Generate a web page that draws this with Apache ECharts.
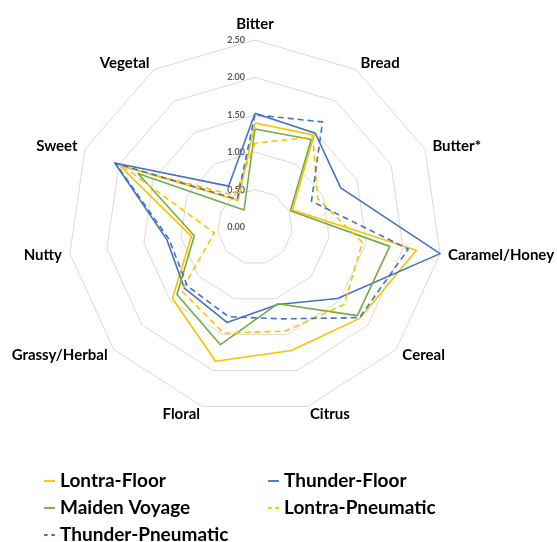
<!DOCTYPE html>
<html>
<head>
<meta charset="utf-8">
<script src="https://cdn.jsdelivr.net/npm/echarts@6/dist/echarts.min.js"></script>
<style>
    html, body { margin: 0; padding: 0; background: #fff; }
    #radar-chart { width: 557px; height: 542px; }
</style>
</head>
<body>
<div id="radar-chart"></div>
<script>
// clockwise from the top, as in the original sheet
var categories = ['Bitter', 'Bread', 'Butter*', 'Caramel/Honey', 'Cereal', 'Citrus',
    'Floral', 'Grassy/Herbal', 'Nutty', 'Sweet', 'Vegetal'];
var tick_max = 2.5;

var lontra_floor      = [1.39, 1.46, 0.55, 2.18, 1.86, 1.72, 1.87, 1.46, 0.86, 2.00, 0.42];
var thunder_floor     = [1.52, 1.49, 1.26, 2.50, 1.46, 1.08, 1.33, 1.25, 1.19, 2.06, 0.65];
var maiden_voyage     = [1.31, 1.39, 0.52, 1.82, 1.81, 1.07, 1.64, 1.38, 0.82, 1.72, 0.27];
var lontra_pneumatic  = [1.12, 1.43, 0.92, 1.45, 1.58, 1.45, 1.48, 1.30, 0.55, 1.93, 0.50];
var thunder_pneumatic = [1.50, 1.67, 0.83, 2.07, 1.85, 1.28, 1.25, 1.20, 1.16, 2.05, 0.44];

var YELLOW = '#FFC000', BLUE = '#4472C4', GREEN = '#70AD47';
var FONT = 'Lato';
var solid_icon = 'path://M0,0 L12,0 L12,2 L0,2 Z';
var dash_icon = 'path://M0,0 L4,0 L4,2 L0,2 Z M8,0 L12,0 L12,2 L8,2 Z';

// echarts lays indicators out counter-clockwise, so flip everything after the first
function ccw(arr) {
    return [arr[0]].concat(arr.slice(1).reverse());
}

function make_series(name, values, color, dashed) {
    return {
        name: name,
        type: 'radar',
        symbol: 'none',
        itemStyle: {color: color},
        lineStyle: {color: color, width: 1.6, type: dashed ? [6, 4] : 'solid'},
        data: [{name: name, value: ccw(values)}]
    };
}

function set_radar_chart() {
    var chart = echarts.init(document.getElementById('radar-chart'));
    var indicator = ccw(categories).map(function (c, i) {
        var ind = {name: c, min: 0, max: tick_max};
        if (i === 0) {
            ind.axisLabel = {show: true};
        }
        return ind;
    });
    var legend_text = {color: '#000', fontFamily: FONT, fontWeight: 'bold', fontSize: 19, lineHeight: 20};
    var option = {
        animation: false,
        radar: {
            center: [255, 227],
            radius: 187,
            shape: 'polygon',
            startAngle: 90,
            splitNumber: 5,
            nameGap: 8,
            axisName: {color: '#000', fontFamily: FONT, fontWeight: 'bold', fontSize: 15},
            axisLine: {show: false},
            axisTick: {show: false},
            splitArea: {show: false},
            splitLine: {lineStyle: {color: '#D9D9D9', width: 1}},
            axisLabel: {
                show: false,
                color: '#595959',
                fontFamily: FONT,
                fontWeight: 'bold',
                fontSize: 9,
                margin: 10,
                formatter: function (v) { return Number(v).toFixed(2); }
            },
            indicator: indicator
        },
        legend: [
            {
                orient: 'vertical', left: 39, top: 466, height: 150, itemGap: 7,
                itemWidth: 11, itemHeight: 2, textStyle: legend_text,
                data: [
                    {name: 'Lontra-Floor', icon: solid_icon},
                    {name: 'Maiden Voyage', icon: solid_icon},
                    {name: 'Thunder-Pneumatic', icon: dash_icon}
                ]
            },
            {
                orient: 'vertical', left: 263, top: 466, height: 150, itemGap: 7,
                itemWidth: 11, itemHeight: 2, textStyle: legend_text,
                data: [
                    {name: 'Thunder-Floor', icon: solid_icon},
                    {name: 'Lontra-Pneumatic', icon: dash_icon}
                ]
            }
        ],
        series: [
            make_series('Lontra-Floor', lontra_floor, YELLOW, false),
            make_series('Thunder-Floor', thunder_floor, BLUE, false),
            make_series('Maiden Voyage', maiden_voyage, GREEN, false),
            make_series('Lontra-Pneumatic', lontra_pneumatic, YELLOW, true),
            make_series('Thunder-Pneumatic', thunder_pneumatic, BLUE, true)
        ]
    };
    chart.setOption(option);
}

set_radar_chart();
</script>
</body>
</html>
